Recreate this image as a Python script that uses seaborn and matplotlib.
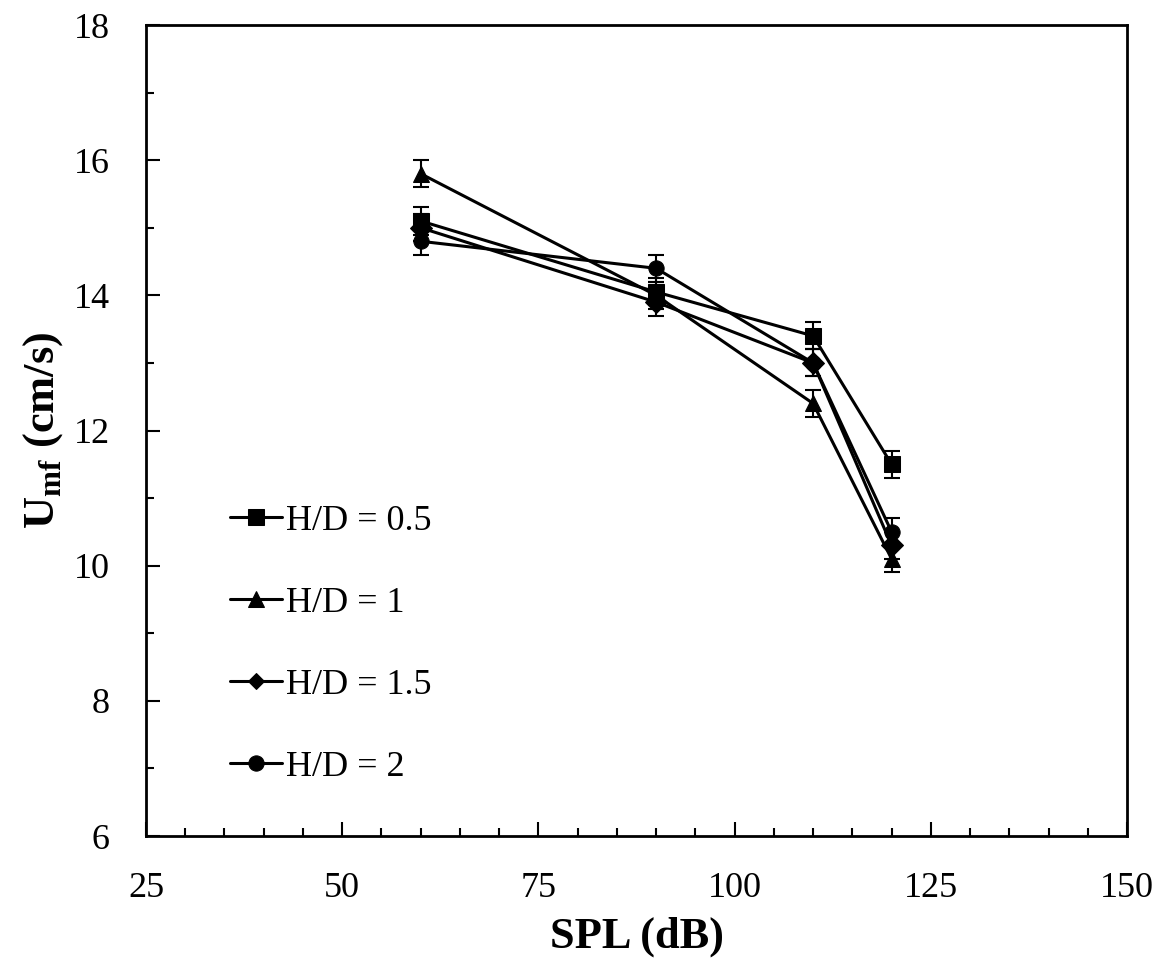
import numpy as np
import pandas as pd
import matplotlib
matplotlib.use("Agg")
import matplotlib.pyplot as plt
from matplotlib.ticker import MultipleLocator
import seaborn as sns

# Sound pressure level (dB) and minimum fluidization velocity (cm/s)
spl = [60, 90, 110, 120]
umf_hd05 = [15.1, 14.05, 13.4, 11.5]
umf_hd1 = [15.8, 14.0, 12.4, 10.1]
umf_hd15 = [15.0, 13.9, 13.0, 10.3]
umf_hd2 = [14.8, 14.4, 13.0, 10.5]
err = [0.2, 0.2, 0.2, 0.2]
labels = ["H/D = 0.5", "H/D = 1", "H/D = 1.5", "H/D = 2"]
markers = ["s", "^", "D", "o"]
marker_sizes = [11, 12, 8, 11]

sns.set_theme(style="white")
plt.rcParams["font.family"] = ["Liberation Serif", "DejaVu Serif"]
plt.rcParams["mathtext.fontset"] = "custom"
plt.rcParams["mathtext.rm"] = "Liberation Serif"
plt.rcParams["mathtext.bf"] = "Liberation Serif:bold"
plt.rcParams["text.color"] = "black"
plt.rcParams["axes.labelcolor"] = "black"
plt.rcParams["xtick.color"] = "black"
plt.rcParams["ytick.color"] = "black"

series = [umf_hd05, umf_hd1, umf_hd15, umf_hd2]
df = pd.concat(
    [pd.DataFrame({"SPL": spl, "Umf": vals, "err": err, "case": lab})
     for vals, lab in zip(series, labels)],
    ignore_index=True,
)

fig = plt.figure(figsize=(11.66, 9.77), dpi=100)
ax = fig.add_axes([0.1252, 0.1443, 0.8414, 0.8301])

for lab in labels:
    sub = df[df["case"] == lab]
    ax.errorbar(sub["SPL"], sub["Umf"], yerr=sub["err"], fmt="none",
                ecolor="black", elinewidth=1.5, capsize=6, capthick=1.5, zorder=2)

sns.lineplot(data=df, x="SPL", y="Umf", hue="case", style="case",
             markers=dict(zip(labels, markers)), dashes=False,
             palette=["black"] * 4, linewidth=2.2, markersize=11,
             markeredgecolor="black", ax=ax, zorder=3, legend=True)

# per-series marker sizes (the diamond is drawn smaller)
for line, ms in zip(ax.get_lines()[-4:], marker_sizes):
    line.set_markersize(ms)

ax.set_xlim(25, 150)
ax.set_ylim(6, 18)
ax.xaxis.set_major_locator(MultipleLocator(25))
ax.xaxis.set_minor_locator(MultipleLocator(5))
ax.yaxis.set_major_locator(MultipleLocator(2))
ax.yaxis.set_minor_locator(MultipleLocator(1))
ax.tick_params(which="both", direction="in", color="black", width=1.5,
               bottom=True, left=True, top=False, right=False)
ax.tick_params(which="major", length=10, labelsize=26, pad=26)
ax.tick_params(which="minor", length=6)
for sp in ax.spines.values():
    sp.set_color("black")
    sp.set_linewidth(2)

ax.set_xlabel("SPL (dB)", fontsize=32, fontweight="bold", labelpad=8)
ax.set_ylabel(r"U$_{\mathbf{mf}}$ (cm/s)", fontsize=32, fontweight="bold", labelpad=6)

handles, labs = ax.get_legend_handles_labels()
for h, ms in zip(handles, marker_sizes):
    h.set_markersize(ms)
leg = ax.legend(handles, labs, loc="upper left", bbox_to_anchor=(0.0856, 0.409),
                frameon=False, fontsize=26, labelspacing=1.35, borderpad=0,
                handlelength=1.45, handletextpad=0.1, borderaxespad=0)

fig.savefig("out.png", dpi=100)
